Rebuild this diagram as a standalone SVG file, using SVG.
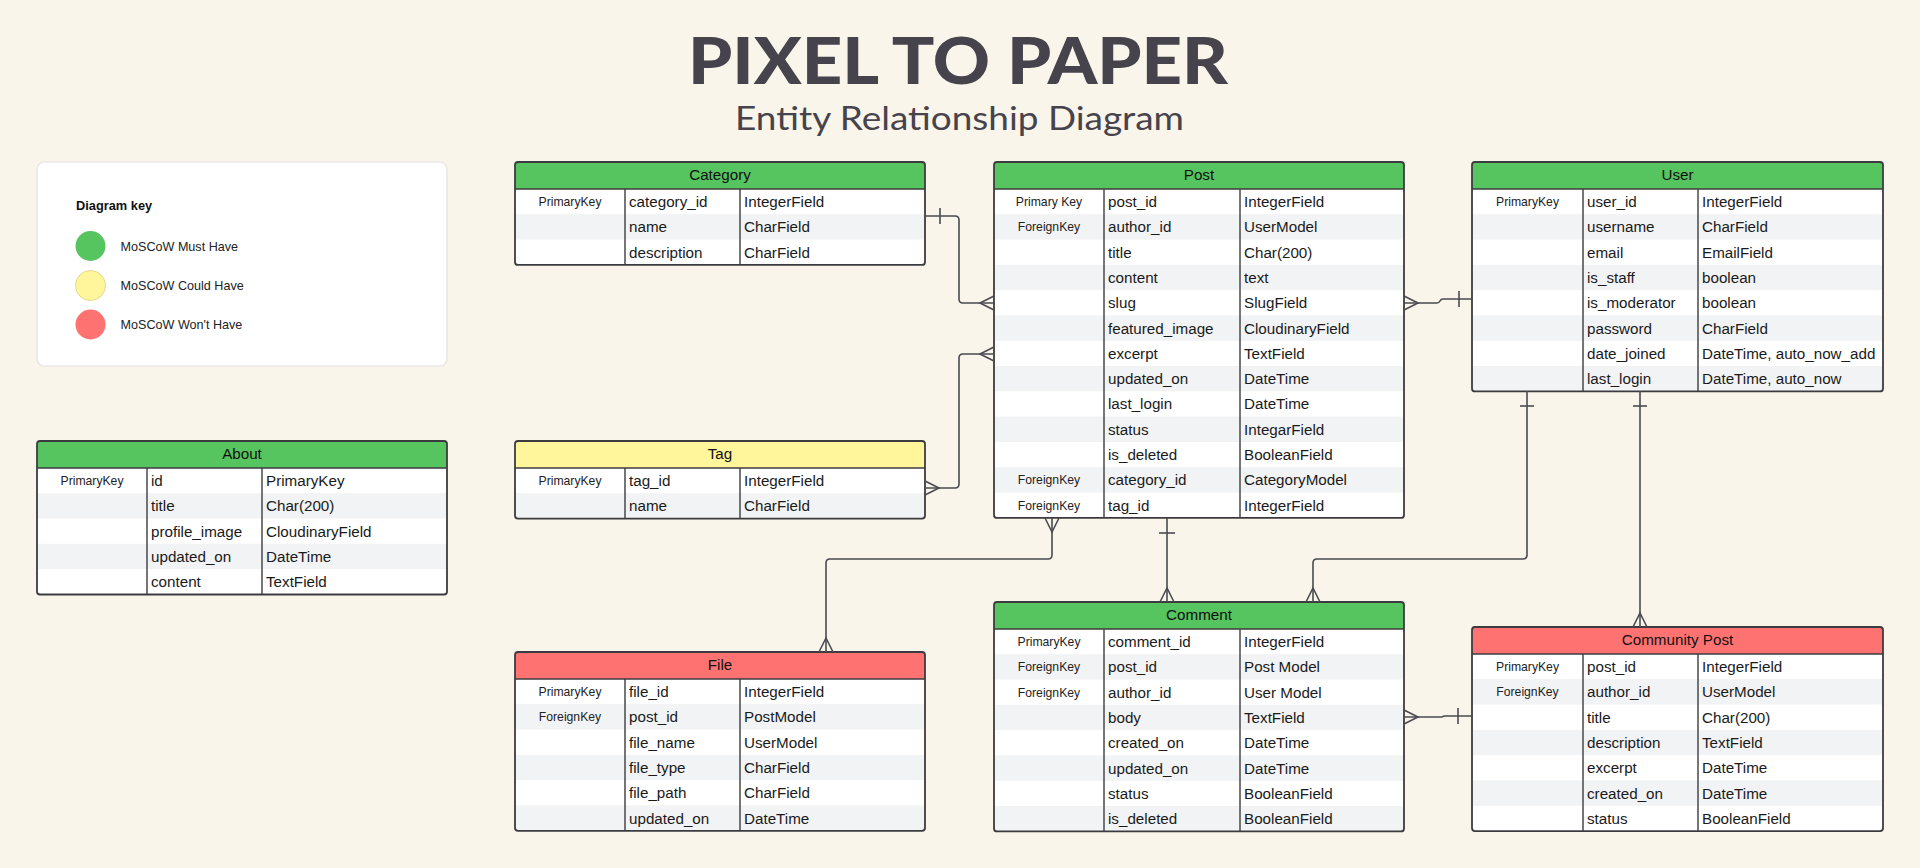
<svg xmlns="http://www.w3.org/2000/svg" width="1920" height="868" viewBox="0 0 1920 868">
<style>
.bg{fill:#f9f5ea}
.ttl{font-family:"Lato","Liberation Sans",sans-serif;font-weight:900;font-size:64px;fill:#47434c}
.sub{font-family:"Lato","Liberation Sans",sans-serif;font-weight:400;font-size:32px;fill:#47434c}
.hdr{font-family:"Liberation Sans",Arial,sans-serif;font-size:15.2px;fill:#111;text-anchor:middle}
.k{font-family:"Liberation Sans",Arial,sans-serif;font-size:12.2px;fill:#222;text-anchor:middle}
.f{font-family:"Liberation Sans",Arial,sans-serif;font-size:15.2px;fill:#1a1a1a}
.lk{font-family:"Liberation Sans",Arial,sans-serif;font-size:12.6px;fill:#222}
.lkb{font-family:"Liberation Sans",Arial,sans-serif;font-size:12.8px;font-weight:bold;fill:#111}
.g{fill:#56c45f}.y{fill:#fff59b}.r{fill:#ff7272}
.w{fill:#ffffff}.a{fill:#f2f3f5}
.ol{fill:none;stroke:#3c3c40;stroke-width:1.8}
.dv{stroke:#3c3c40;stroke-width:1.4}
.cn path{fill:none;stroke:#4a4a50;stroke-width:1.6}
</style>
<rect class="bg" x="0" y="0" width="1920" height="868"/>

<g id="title">
<text class="ttl" x="688" y="84" textLength="540" lengthAdjust="spacingAndGlyphs">PIXEL TO PAPER</text>
<text class="sub" x="735" y="130" textLength="449" lengthAdjust="spacingAndGlyphs">Entity Relationship Diagram</text>
</g>

<g id="key">
<rect x="37" y="162" width="410" height="204" rx="7" fill="#ffffff" stroke="#e2e2e2" stroke-width="1.2"/>
<text class="lkb" x="76" y="210">Diagram key</text>
<circle cx="90.5" cy="246" r="15" fill="#56c45f"/>
<text class="lk" x="120.5" y="250.5">MoSCoW Must Have</text>
<circle cx="90.5" cy="285.5" r="15" fill="#fff59b" stroke="#e4d98a" stroke-width="1"/>
<text class="lk" x="120.5" y="290">MoSCoW Could Have</text>
<circle cx="90.5" cy="324.5" r="15" fill="#ff7272"/>
<text class="lk" x="120.5" y="329">MoSCoW Won't Have</text>
</g>

<!-- Category -->
<g id="category">
<rect class="g" x="515" y="162" width="410" height="27"/>
<rect class="w" x="515" y="189" width="410" height="25.3"/>
<rect class="a" x="515" y="214.3" width="410" height="25.3"/>
<rect class="w" x="515" y="239.6" width="410" height="25.3"/>
<line class="dv" x1="515" y1="189" x2="925" y2="189"/>
<line class="dv" x1="625" y1="189" x2="625" y2="264.9"/>
<line class="dv" x1="740" y1="189" x2="740" y2="264.9"/>
<rect class="ol" x="515" y="162" width="410" height="102.9" rx="3"/>
<text class="hdr" x="720" y="180">Category</text>
<text class="k" x="570" y="206">PrimaryKey</text>
<text class="f" x="629" y="207">category_id</text><text class="f" x="744" y="207">IntegerField</text>
<text class="f" x="629" y="232.3">name</text><text class="f" x="744" y="232.3">CharField</text>
<text class="f" x="629" y="257.6">description</text><text class="f" x="744" y="257.6">CharField</text>
</g>

<!-- Post -->
<g id="post">
<rect class="g" x="994" y="162" width="410" height="27"/>
<rect class="w" x="994" y="189" width="410" height="25.3"/>
<rect class="a" x="994" y="214.3" width="410" height="25.3"/>
<rect class="w" x="994" y="239.6" width="410" height="25.3"/>
<rect class="a" x="994" y="264.9" width="410" height="25.3"/>
<rect class="w" x="994" y="290.2" width="410" height="25.3"/>
<rect class="a" x="994" y="315.5" width="410" height="25.3"/>
<rect class="w" x="994" y="340.8" width="410" height="25.3"/>
<rect class="a" x="994" y="366.1" width="410" height="25.3"/>
<rect class="w" x="994" y="391.4" width="410" height="25.3"/>
<rect class="a" x="994" y="416.7" width="410" height="25.3"/>
<rect class="w" x="994" y="442" width="410" height="25.3"/>
<rect class="a" x="994" y="467.3" width="410" height="25.3"/>
<rect class="w" x="994" y="492.6" width="410" height="25.3"/>
<line class="dv" x1="994" y1="189" x2="1404" y2="189"/>
<line class="dv" x1="1104" y1="189" x2="1104" y2="517.9"/>
<line class="dv" x1="1240" y1="189" x2="1240" y2="517.9"/>
<rect class="ol" x="994" y="162" width="410" height="355.9" rx="3"/>
<text class="hdr" x="1199" y="180">Post</text>
<text class="k" x="1049" y="206">Primary Key</text>
<text class="k" x="1049" y="231.3">ForeignKey</text>
<text class="k" x="1049" y="484.3">ForeignKey</text>
<text class="k" x="1049" y="509.6">ForeignKey</text>
<text class="f" x="1108" y="207">post_id</text><text class="f" x="1244" y="207">IntegerField</text>
<text class="f" x="1108" y="232.3">author_id</text><text class="f" x="1244" y="232.3">UserModel</text>
<text class="f" x="1108" y="257.6">title</text><text class="f" x="1244" y="257.6">Char(200)</text>
<text class="f" x="1108" y="282.9">content</text><text class="f" x="1244" y="282.9">text</text>
<text class="f" x="1108" y="308.2">slug</text><text class="f" x="1244" y="308.2">SlugField</text>
<text class="f" x="1108" y="333.5">featured_image</text><text class="f" x="1244" y="333.5">CloudinaryField</text>
<text class="f" x="1108" y="358.8">excerpt</text><text class="f" x="1244" y="358.8">TextField</text>
<text class="f" x="1108" y="384.1">updated_on</text><text class="f" x="1244" y="384.1">DateTime</text>
<text class="f" x="1108" y="409.4">last_login</text><text class="f" x="1244" y="409.4">DateTime</text>
<text class="f" x="1108" y="434.7">status</text><text class="f" x="1244" y="434.7">IntegarField</text>
<text class="f" x="1108" y="460">is_deleted</text><text class="f" x="1244" y="460">BooleanField</text>
<text class="f" x="1108" y="485.3">category_id</text><text class="f" x="1244" y="485.3">CategoryModel</text>
<text class="f" x="1108" y="510.6">tag_id</text><text class="f" x="1244" y="510.6">IntegerField</text>
</g>

<!-- User -->
<g id="user">
<rect class="g" x="1472" y="162" width="411" height="27"/>
<rect class="w" x="1472" y="189" width="411" height="25.3"/>
<rect class="a" x="1472" y="214.3" width="411" height="25.3"/>
<rect class="w" x="1472" y="239.6" width="411" height="25.3"/>
<rect class="a" x="1472" y="264.9" width="411" height="25.3"/>
<rect class="w" x="1472" y="290.2" width="411" height="25.3"/>
<rect class="a" x="1472" y="315.5" width="411" height="25.3"/>
<rect class="w" x="1472" y="340.8" width="411" height="25.3"/>
<rect class="a" x="1472" y="366.1" width="411" height="25.3"/>
<line class="dv" x1="1472" y1="189" x2="1883" y2="189"/>
<line class="dv" x1="1583" y1="189" x2="1583" y2="391.4"/>
<line class="dv" x1="1698" y1="189" x2="1698" y2="391.4"/>
<rect class="ol" x="1472" y="162" width="411" height="229.4" rx="3"/>
<text class="hdr" x="1677.5" y="180">User</text>
<text class="k" x="1527.5" y="206">PrimaryKey</text>
<text class="f" x="1587" y="207">user_id</text><text class="f" x="1702" y="207">IntegerField</text>
<text class="f" x="1587" y="232.3">username</text><text class="f" x="1702" y="232.3">CharField</text>
<text class="f" x="1587" y="257.6">email</text><text class="f" x="1702" y="257.6">EmailField</text>
<text class="f" x="1587" y="282.9">is_staff</text><text class="f" x="1702" y="282.9">boolean</text>
<text class="f" x="1587" y="308.2">is_moderator</text><text class="f" x="1702" y="308.2">boolean</text>
<text class="f" x="1587" y="333.5">password</text><text class="f" x="1702" y="333.5">CharField</text>
<text class="f" x="1587" y="358.8">date_joined</text><text class="f" x="1702" y="358.8">DateTime, auto_now_add</text>
<text class="f" x="1587" y="384.1">last_login</text><text class="f" x="1702" y="384.1">DateTime, auto_now</text>
</g>

<!-- About -->
<g id="about">
<rect class="g" x="37" y="441" width="410" height="27"/>
<rect class="w" x="37" y="468" width="410" height="25.3"/>
<rect class="a" x="37" y="493.3" width="410" height="25.3"/>
<rect class="w" x="37" y="518.6" width="410" height="25.3"/>
<rect class="a" x="37" y="543.9" width="410" height="25.3"/>
<rect class="w" x="37" y="569.2" width="410" height="25.3"/>
<line class="dv" x1="37" y1="468" x2="447" y2="468"/>
<line class="dv" x1="147" y1="468" x2="147" y2="594.5"/>
<line class="dv" x1="262" y1="468" x2="262" y2="594.5"/>
<rect class="ol" x="37" y="441" width="410" height="153.5" rx="3"/>
<text class="hdr" x="242" y="459">About</text>
<text class="k" x="92" y="485">PrimaryKey</text>
<text class="f" x="151" y="486">id</text><text class="f" x="266" y="486">PrimaryKey</text>
<text class="f" x="151" y="511.3">title</text><text class="f" x="266" y="511.3">Char(200)</text>
<text class="f" x="151" y="536.6">profile_image</text><text class="f" x="266" y="536.6">CloudinaryField</text>
<text class="f" x="151" y="561.9">updated_on</text><text class="f" x="266" y="561.9">DateTime</text>
<text class="f" x="151" y="587.2">content</text><text class="f" x="266" y="587.2">TextField</text>
</g>

<!-- Tag -->
<g id="tag">
<rect class="y" x="515" y="441" width="410" height="27"/>
<rect class="w" x="515" y="468" width="410" height="25.3"/>
<rect class="a" x="515" y="493.3" width="410" height="25.3"/>
<line class="dv" x1="515" y1="468" x2="925" y2="468"/>
<line class="dv" x1="625" y1="468" x2="625" y2="518.6"/>
<line class="dv" x1="740" y1="468" x2="740" y2="518.6"/>
<rect class="ol" x="515" y="441" width="410" height="77.6" rx="3"/>
<text class="hdr" x="720" y="459">Tag</text>
<text class="k" x="570" y="485">PrimaryKey</text>
<text class="f" x="629" y="486">tag_id</text><text class="f" x="744" y="486">IntegerField</text>
<text class="f" x="629" y="511.3">name</text><text class="f" x="744" y="511.3">CharField</text>
</g>

<!-- File -->
<g id="file">
<rect class="r" x="515" y="652" width="410" height="27"/>
<rect class="w" x="515" y="679" width="410" height="25.3"/>
<rect class="a" x="515" y="704.3" width="410" height="25.3"/>
<rect class="w" x="515" y="729.6" width="410" height="25.3"/>
<rect class="a" x="515" y="754.9" width="410" height="25.3"/>
<rect class="w" x="515" y="780.2" width="410" height="25.3"/>
<rect class="a" x="515" y="805.5" width="410" height="25.3"/>
<line class="dv" x1="515" y1="679" x2="925" y2="679"/>
<line class="dv" x1="625" y1="679" x2="625" y2="830.8"/>
<line class="dv" x1="740" y1="679" x2="740" y2="830.8"/>
<rect class="ol" x="515" y="652" width="410" height="178.8" rx="3"/>
<text class="hdr" x="720" y="670">File</text>
<text class="k" x="570" y="696">PrimaryKey</text>
<text class="k" x="570" y="721.3">ForeignKey</text>
<text class="f" x="629" y="697">file_id</text><text class="f" x="744" y="697">IntegerField</text>
<text class="f" x="629" y="722.3">post_id</text><text class="f" x="744" y="722.3">PostModel</text>
<text class="f" x="629" y="747.6">file_name</text><text class="f" x="744" y="747.6">UserModel</text>
<text class="f" x="629" y="772.9">file_type</text><text class="f" x="744" y="772.9">CharField</text>
<text class="f" x="629" y="798.2">file_path</text><text class="f" x="744" y="798.2">CharField</text>
<text class="f" x="629" y="823.5">updated_on</text><text class="f" x="744" y="823.5">DateTime</text>
</g>

<!-- Comment -->
<g id="comment">
<rect class="g" x="994" y="602" width="410" height="27"/>
<rect class="w" x="994" y="629" width="410" height="25.3"/>
<rect class="a" x="994" y="654.3" width="410" height="25.3"/>
<rect class="w" x="994" y="679.6" width="410" height="25.3"/>
<rect class="a" x="994" y="704.9" width="410" height="25.3"/>
<rect class="w" x="994" y="730.2" width="410" height="25.3"/>
<rect class="a" x="994" y="755.5" width="410" height="25.3"/>
<rect class="w" x="994" y="780.8" width="410" height="25.3"/>
<rect class="a" x="994" y="806.1" width="410" height="25.3"/>
<line class="dv" x1="994" y1="629" x2="1404" y2="629"/>
<line class="dv" x1="1104" y1="629" x2="1104" y2="831.4"/>
<line class="dv" x1="1240" y1="629" x2="1240" y2="831.4"/>
<rect class="ol" x="994" y="602" width="410" height="229.4" rx="3"/>
<text class="hdr" x="1199" y="620">Comment</text>
<text class="k" x="1049" y="646">PrimaryKey</text>
<text class="k" x="1049" y="671.3">ForeignKey</text>
<text class="k" x="1049" y="696.6">ForeignKey</text>
<text class="f" x="1108" y="647">comment_id</text><text class="f" x="1244" y="647">IntegerField</text>
<text class="f" x="1108" y="672.3">post_id</text><text class="f" x="1244" y="672.3">Post Model</text>
<text class="f" x="1108" y="697.6">author_id</text><text class="f" x="1244" y="697.6">User Model</text>
<text class="f" x="1108" y="722.9">body</text><text class="f" x="1244" y="722.9">TextField</text>
<text class="f" x="1108" y="748.2">created_on</text><text class="f" x="1244" y="748.2">DateTime</text>
<text class="f" x="1108" y="773.5">updated_on</text><text class="f" x="1244" y="773.5">DateTime</text>
<text class="f" x="1108" y="798.8">status</text><text class="f" x="1244" y="798.8">BooleanField</text>
<text class="f" x="1108" y="824.1">is_deleted</text><text class="f" x="1244" y="824.1">BooleanField</text>
</g>

<!-- Community Post -->
<g id="community-post">
<rect class="r" x="1472" y="627" width="411" height="27"/>
<rect class="w" x="1472" y="654" width="411" height="25.3"/>
<rect class="a" x="1472" y="679.3" width="411" height="25.3"/>
<rect class="w" x="1472" y="704.6" width="411" height="25.3"/>
<rect class="a" x="1472" y="729.9" width="411" height="25.3"/>
<rect class="w" x="1472" y="755.2" width="411" height="25.3"/>
<rect class="a" x="1472" y="780.5" width="411" height="25.3"/>
<rect class="w" x="1472" y="805.8" width="411" height="25.3"/>
<line class="dv" x1="1472" y1="654" x2="1883" y2="654"/>
<line class="dv" x1="1583" y1="654" x2="1583" y2="831.1"/>
<line class="dv" x1="1698" y1="654" x2="1698" y2="831.1"/>
<rect class="ol" x="1472" y="627" width="411" height="204.1" rx="3"/>
<text class="hdr" x="1677.5" y="645">Community Post</text>
<text class="k" x="1527.5" y="671">PrimaryKey</text>
<text class="k" x="1527.5" y="696.3">ForeignKey</text>
<text class="f" x="1587" y="672">post_id</text><text class="f" x="1702" y="672">IntegerField</text>
<text class="f" x="1587" y="697.3">author_id</text><text class="f" x="1702" y="697.3">UserModel</text>
<text class="f" x="1587" y="722.6">title</text><text class="f" x="1702" y="722.6">Char(200)</text>
<text class="f" x="1587" y="747.9">description</text><text class="f" x="1702" y="747.9">TextField</text>
<text class="f" x="1587" y="773.2">excerpt</text><text class="f" x="1702" y="773.2">DateTime</text>
<text class="f" x="1587" y="798.5">created_on</text><text class="f" x="1702" y="798.5">DateTime</text>
<text class="f" x="1587" y="823.8">status</text><text class="f" x="1702" y="823.8">BooleanField</text>
</g>

<g id="connectors" class="cn">
<!-- Category to Post -->
<path d="M925 216 H955 Q959 216 959 220 V299 Q959 303 963 303 H994"/>
<path d="M940 208 V224"/>
<path d="M994 296 L980 303 L994 310"/>
<!-- Tag to Post -->
<path d="M925 488 H955 Q959 488 959 484 V358 Q959 354 963 354 H994"/>
<path d="M925 481 L939 488 L925 495"/>
<path d="M994 347 L980 354 L994 361"/>
<!-- Post to User -->
<path d="M1404 303 H1437 Q1439 303 1440 301 Q1441 299 1443 299 H1472"/>
<path d="M1404 296 L1418 303 L1404 310"/>
<path d="M1459 291 V307"/>
<!-- Post to File -->
<path d="M1052 518 V555 Q1052 559 1048 559 H830 Q826 559 826 563 V652"/>
<path d="M1045 518 L1052 532 L1059 518"/>
<path d="M819 652 L826 638 L833 652"/>
<!-- Post to Comment -->
<path d="M1167 518 V602"/>
<path d="M1159 533 H1175"/>
<path d="M1160 602 L1167 588 L1174 602"/>
<!-- User to Comment -->
<path d="M1527 391 V555 Q1527 559 1523 559 H1317 Q1313 559 1313 563 V602"/>
<path d="M1520 406 H1534"/>
<path d="M1306 602 L1313 588 L1320 602"/>
<!-- User to Community Post -->
<path d="M1640 391 V627"/>
<path d="M1633 406 H1647"/>
<path d="M1633 627 L1640 613 L1647 627"/>
<!-- Comment to Community Post -->
<path d="M1404 717 H1442 Q1443 716 1445 716 H1472"/>
<path d="M1404 710 L1418 717 L1404 724"/>
<path d="M1458 708 V724"/>
</g>
</svg>
